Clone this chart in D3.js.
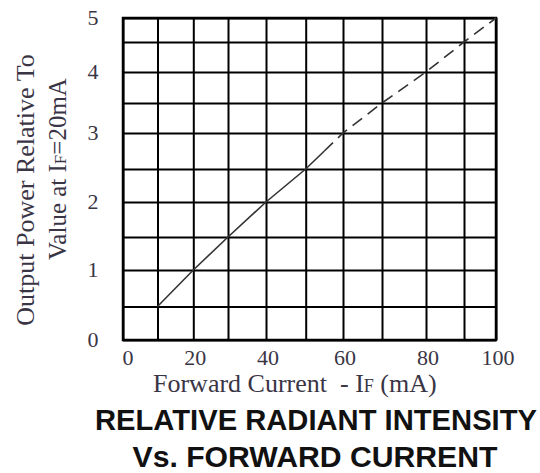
<!DOCTYPE html>
<html>
<head>
<meta charset="utf-8">
<script src="https://cdn.jsdelivr.net/npm/d3@7"></script>
<style>
  body { margin: 0; background: #fff; }
  svg { display: block; }
  .tick-label { font-family: "Liberation Serif", "DejaVu Serif", serif; fill: #3a3545; }
  .axis-title { font-family: "Liberation Serif", "DejaVu Serif", serif; fill: #3a3545; }
  .chart-title { font-family: "Liberation Sans", Arial, sans-serif; font-weight: bold; fill: #111; }
</style>
</head>
<body>
<div id="chart"></div>
<script>
// grid values and tick labels
var currentGrid = [0, 10, 20, 30, 40, 50, 60, 70, 80, 90, 100];
var powerGrid = [0, 0.5, 1, 1.5, 2, 2.5, 3, 3.5, 4, 4.5, 5];
var currentTicks = [0, 20, 40, 60, 80, 100];
var powerTicks = [0, 1, 2, 3, 4, 5];

// measured part of the curve (solid) and extrapolated part (dashed)
var solidCurrent = [10, 20, 30, 40, 50, 55];
var solidPower = [0.5, 1, 1.5, 2, 2.5, 2.75];
var dashedCurrent = [55, 60, 70, 80, 90, 100];
var dashedPower = [2.75, 3, 3.5, 4, 4.5, 5];

var width = 540, height = 473;

// the printed grid is not evenly spaced, so map each grid line to where it sits
var x = d3.scaleLinear()
    .domain(currentGrid)
    .range([123, 157.5, 193.3, 228, 266, 305.7, 343, 382, 426, 464, 496]);

var y = d3.scaleLinear()
    .domain(powerGrid)
    .range([340, 306.5, 270, 237, 202, 169, 133, 103, 72, 42, 18]);

var svg = d3.select("#chart").append("svg")
    .attr("width", width)
    .attr("height", height);

// vertical grid lines
svg.append("g")
    .attr("transform", "translate(0," + y(0) + ")")
    .call(d3.axisBottom(x)
        .tickValues(currentGrid)
        .tickSize(-(y(0) - y(5)))
        .tickFormat("")
    )
    .call(g => g.select(".domain").remove())
    .call(g => g.selectAll("line").attr("stroke", "#000").attr("stroke-width", 2));

// horizontal grid lines
svg.append("g")
    .attr("transform", "translate(" + x(0) + ",0)")
    .call(d3.axisLeft(y)
        .tickValues(powerGrid)
        .tickSize(-(x(100) - x(0)))
        .tickFormat("")
    )
    .call(g => g.select(".domain").remove())
    .call(g => g.selectAll("line").attr("stroke", "#000").attr("stroke-width", 2));

// frame
svg.append("rect")
    .attr("x", x(0))
    .attr("y", y(5))
    .attr("width", x(100) - x(0))
    .attr("height", y(0) - y(5))
    .attr("fill", "none")
    .attr("stroke", "#000")
    .attr("stroke-width", 2.5);

// tick labels
svg.selectAll(".x-label")
    .data(currentTicks)
    .enter().append("text")
    .attr("class", "tick-label")
    .attr("x", d => x(d) + (d === 0 ? 5 : 2))
    .attr("y", 365)
    .attr("text-anchor", "middle")
    .attr("font-size", 22)
    .text(d => d);

svg.selectAll(".y-label")
    .data(powerTicks)
    .enter().append("text")
    .attr("class", "tick-label")
    .attr("x", 93)
    .attr("y", d => y(d) + 7)
    .attr("text-anchor", "middle")
    .attr("font-size", 22)
    .text(d => d);

// curve
var line = d3.line()
    .x(d => x(d[0]))
    .y(d => y(d[1]));

svg.append("path")
    .datum(d3.zip(solidCurrent, solidPower))
    .attr("fill", "none")
    .attr("stroke", "#333")
    .attr("stroke-width", 1.6)
    .attr("d", line);

svg.append("path")
    .datum(d3.zip(dashedCurrent, dashedPower))
    .attr("fill", "none")
    .attr("stroke", "#333")
    .attr("stroke-width", 1.6)
    .attr("stroke-dasharray", "12,7")
    .attr("d", line);

// x axis title
var xTitle = svg.append("text")
    .attr("class", "axis-title")
    .attr("x", 153)
    .attr("y", 392)
    .attr("font-size", 26);
xTitle.append("tspan").text("Forward Current\u00a0\u00a0- I");
xTitle.append("tspan").attr("font-size", 18).text("F");
xTitle.append("tspan").text(" (mA)");

// y axis title, two rotated lines
var yTitle1 = svg.append("text")
    .attr("class", "axis-title")
    .attr("transform", "translate(34,190) rotate(-90)")
    .attr("text-anchor", "middle")
    .attr("font-size", 26)
    .text("Output Power Relative To");

var yTitle2 = svg.append("text")
    .attr("class", "axis-title")
    .attr("transform", "translate(66,169) rotate(-90)")
    .attr("text-anchor", "middle")
    .attr("font-size", 25);
yTitle2.append("tspan").text("Value at I");
yTitle2.append("tspan").attr("font-size", 17).text("F");
yTitle2.append("tspan").text("=20mA");

// chart title
svg.append("text")
    .attr("class", "chart-title")
    .attr("x", 316)
    .attr("y", 430)
    .attr("text-anchor", "middle")
    .attr("font-size", 29)
    .attr("textLength", 442)
    .attr("lengthAdjust", "spacingAndGlyphs")
    .text("RELATIVE RADIANT INTENSITY");

svg.append("text")
    .attr("class", "chart-title")
    .attr("x", 315)
    .attr("y", 467)
    .attr("text-anchor", "middle")
    .attr("font-size", 29)
    .attr("textLength", 365)
    .attr("lengthAdjust", "spacingAndGlyphs")
    .text("Vs. FORWARD CURRENT");
</script>
</body>
</html>
